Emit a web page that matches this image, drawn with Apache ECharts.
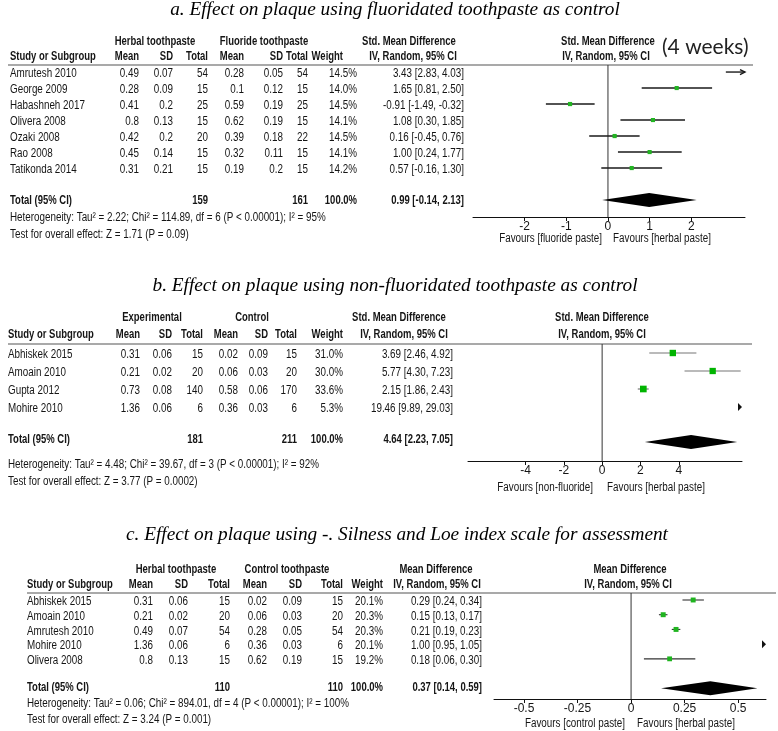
<!DOCTYPE html>
<html><head><meta charset="utf-8">
<script src="https://cdn.jsdelivr.net/npm/echarts@6/dist/echarts.min.js"></script>
<style>html,body{margin:0;padding:0;background:#fff}#c{width:778px;height:731px}</style>
</head><body><div id="c"></div>
<script>
// ---------- Panel a data ----------
const aStudies = ['Amrutesh 2010','George 2009','Habashneh 2017','Olivera 2008','Ozaki 2008','Rao 2008','Tatikonda 2014'];
const aHerbMean = [0.49,0.28,0.41,0.8,0.42,0.45,0.31];
const aHerbSD = [0.07,0.09,0.2,0.13,0.2,0.14,0.21];
const aHerbN = [54,15,25,15,20,15,15];
const aCtrlMean = [0.28,0.1,0.59,0.62,0.39,0.32,0.19];
const aCtrlSD = [0.05,0.12,0.19,0.19,0.18,0.11,0.2];
const aCtrlN = [54,15,25,15,22,15,15];
const aWeight = [14.5,14.0,14.5,14.1,14.5,14.1,14.2];
const aEst = [3.43,1.65,-0.91,1.08,0.16,1.00,0.57];
const aLo = [2.83,0.81,-1.49,0.30,-0.45,0.24,-0.16];
const aHi = [4.03,2.50,-0.32,1.85,0.76,1.77,1.30];
const aPooled = [0.99,-0.14,2.13];
const aTotals = [159,161];
const aTicks = [-2,-1,0,1,2];
// ---------- Panel b data ----------
const bStudies = ['Abhiskek 2015','Amoain 2010','Gupta 2012','Mohire 2010'];
const bExpMean = [0.31,0.21,0.73,1.36];
const bExpSD = [0.06,0.02,0.08,0.06];
const bExpN = [15,20,140,6];
const bCtrlMean = [0.02,0.06,0.58,0.36];
const bCtrlSD = [0.09,0.03,0.06,0.03];
const bCtrlN = [15,20,170,6];
const bWeight = [31.0,30.0,33.6,5.3];
const bEst = [3.69,5.77,2.15,19.46];
const bLo = [2.46,4.30,1.86,9.89];
const bHi = [4.92,7.23,2.43,29.03];
const bPooled = [4.64,2.23,7.05];
const bTotals = [181,211];
const bTicks = [-4,-2,0,2,4];
// ---------- Panel c data ----------
const cStudies = ['Abhiskek 2015','Amoain 2010','Amrutesh 2010','Mohire 2010','Olivera 2008'];
const cHerbMean = [0.31,0.21,0.49,1.36,0.8];
const cHerbSD = [0.06,0.02,0.07,0.06,0.13];
const cHerbN = [15,20,54,6,15];
const cCtrlMean = [0.02,0.06,0.28,0.36,0.62];
const cCtrlSD = [0.09,0.03,0.05,0.03,0.19];
const cCtrlN = [15,20,54,6,15];
const cWeight = [20.1,20.3,20.3,20.1,19.2];
const cEst = [0.29,0.15,0.21,1.00,0.18];
const cLo = [0.24,0.13,0.19,0.95,0.06];
const cHi = [0.34,0.17,0.23,1.05,0.30];
const cPooled = [0.37,0.14,0.59];
const cTotals = [110,110];
const cTicks = [-0.5,-0.25,0,0.25,0.5];

const FN = '"Liberation Sans", Arial, sans-serif';
const INK = '#151515';
function txt(x, y, s, o) {
  o = o || {};
  const size = o.size || 12;
  const al = o.align || 'left';
  const sx = o.sx != null ? o.sx : (o.bold ? 0.79 : 0.82);
  return {type:'text', x:x, y:y, scaleX:sx, silent:true, z:10,
    style:{text:s, x:0, y:0, textAlign:al, textVerticalAlign:'middle', align:al, verticalAlign:'middle',
      font:(o.italic?'italic ':'')+(o.bold?'bold ':'')+size+'px '+(o.family||FN), fill:o.color||INK}};
}
function hline(x1,x2,y){ return {type:'line', silent:true, shape:{x1:x1,y1:y,x2:x2,y2:y}, style:{stroke:'#555',lineWidth:1.2}}; }
const ci = (e,l,h)=> e.toFixed(2)+' ['+l.toFixed(2)+', '+h.toFixed(2)+']';

const graphics = [];
function table(P){
  const g = graphics;
  g.push(txt(P.titleX, P.titleY, P.title, {italic:true, size:19.3, align:'center', family:'"Liberation Serif", "Times New Roman", serif', sx:1, color:'#000'}));
  g.push(txt(P.grp1X, P.h1, P.grp1, {bold:true, align:'center'}));
  g.push(txt(P.grp2X, P.h1, P.grp2, {bold:true, align:'center'}));
  g.push(txt(P.effX, P.h1, P.effName, {bold:true, align:'center'}));
  g.push(txt(P.ivX, P.h2, 'IV, Random, 95% CI', {bold:true, align:'center'}));
  g.push(txt(P.plotEffX, P.h1, P.effName, {bold:true, align:'center'}));
  g.push(txt(P.plotIvX, P.h2, 'IV, Random, 95% CI', {bold:true, align:'center'}));
  g.push(txt(P.studyX, P.h2, 'Study or Subgroup', {bold:true}));
  const heads = ['Mean','SD','Total','Mean','SD','Total','Weight'];
  heads.forEach((h,i)=> g.push(txt(P.cols[i], P.h2, h, {bold:true, align:'right'})));
  g.push(hline(P.lineX1, P.lineX2, P.lineY));
  P.studies.forEach((s,i)=>{
    const y = P.rowY + P.dy*i + P.textOff;
    g.push(txt(P.studyX, y, s));
    const vals = [String(P.m1[i]), String(P.sd1[i]), String(P.n1[i]), String(P.m2[i]), String(P.sd2[i]), String(P.n2[i]), P.w[i].toFixed(1)+'%'];
    vals.forEach((v,j)=> g.push(txt(P.cols[j] + (j===6?P.wOff:0), y, v, {align:'right'})));
    g.push(txt(P.valX, y, ci(P.est[i], P.lo[i], P.hi[i]), {align:'right'}));
  });
  const ty = P.totY;
  g.push(txt(P.studyX, ty, 'Total (95% CI)', {bold:true}));
  g.push(txt(P.cols[2], ty, String(P.totals[0]), {bold:true, align:'right'}));
  g.push(txt(P.cols[5], ty, String(P.totals[1]), {bold:true, align:'right'}));
  g.push(txt(P.cols[6] + P.wOff, ty, '100.0%', {bold:true, align:'right'}));
  g.push(txt(P.valX, ty, ci(P.pooled[0], P.pooled[1], P.pooled[2]), {bold:true, align:'right'}));
  g.push(txt(P.studyX, P.hetY, P.het));
  g.push(txt(P.studyX, P.hetY + P.hetDy, P.test));
  g.push(txt(P.fav1X, P.favY, P.fav1, {align:'right'}));
  g.push(txt(P.fav2X, P.favY, P.fav2, {align:'left'}));
}

table({title:'a. Effect on plaque using fluoridated toothpaste as control', titleX:395, titleY:10,
  grp1:'Herbal toothpaste', grp1X:155, grp2:'Fluoride toothpaste', grp2X:264, effName:'Std. Mean Difference', effX:409, ivX:413,
  plotEffX:608, plotIvX:606, h1:42, h2:57, studyX:10, cols:[139,173,208,244,283,308,343], wOff:14,
  lineX1:8, lineX2:753, lineY:65, rowY:72, dy:16, textOff:2, valX:464,
  studies:aStudies, m1:aHerbMean, sd1:aHerbSD, n1:aHerbN, m2:aCtrlMean, sd2:aCtrlSD, n2:aCtrlN, w:aWeight,
  est:aEst, lo:aLo, hi:aHi, pooled:aPooled, totals:aTotals, totY:201,
  het:'Heterogeneity: Tau² = 2.22; Chi² = 114.89, df = 6 (P < 0.00001); I² = 95%', test:'Test for overall effect: Z = 1.71 (P = 0.09)',
  hetY:218, hetDy:17, fav1:'Favours [fluoride paste]', fav1X:602, fav2:'Favours [herbal paste]', fav2X:613, favY:239});
graphics.push(txt(662, 47, '(4 weeks)', {size:21, family:'Lato, "Open Sans", sans-serif', sx:1, color:'#222'}));

table({title:'b. Effect on plaque using non-fluoridated toothpaste as control', titleX:395, titleY:286,
  grp1:'Experimental', grp1X:152, grp2:'Control', grp2X:252, effName:'Std. Mean Difference', effX:399, ivX:404,
  plotEffX:602, plotIvX:602, h1:318, h2:335, studyX:8, cols:[140,172,203,238,268,297,343], wOff:0,
  lineX1:8, lineX2:752, lineY:344, rowY:353, dy:18, textOff:2, valX:453,
  studies:bStudies, m1:bExpMean, sd1:bExpSD, n1:bExpN, m2:bCtrlMean, sd2:bCtrlSD, n2:bCtrlN, w:bWeight,
  est:bEst, lo:bLo, hi:bHi, pooled:bPooled, totals:bTotals, totY:440,
  het:'Heterogeneity: Tau² = 4.48; Chi² = 39.67, df = 3 (P < 0.00001); I² = 92%', test:'Test for overall effect: Z = 3.77 (P = 0.0002)',
  hetY:465, hetDy:17, fav1:'Favours [non-fluoride]', fav1X:593, fav2:'Favours [herbal paste]', fav2X:607, favY:488});

table({title:'c. Effect on plaque using -. Silness and Loe index scale for assessment', titleX:397, titleY:535,
  grp1:'Herbal toothpaste', grp1X:176, grp2:'Control toothpaste', grp2X:287, effName:'Mean Difference', effX:436, ivX:437,
  plotEffX:630, plotIvX:628, h1:570, h2:585, studyX:27, cols:[153,188,230,267,302,343,383], wOff:0,
  lineX1:27, lineX2:776, lineY:593, rowY:600, dy:14.7, textOff:2, valX:482,
  studies:cStudies, m1:cHerbMean, sd1:cHerbSD, n1:cHerbN, m2:cCtrlMean, sd2:cCtrlSD, n2:cCtrlN, w:cWeight,
  est:cEst, lo:cLo, hi:cHi, pooled:cPooled, totals:cTotals, totY:688,
  het:'Heterogeneity: Tau² = 0.06; Chi² = 894.01, df = 4 (P < 0.00001); I² = 100%', test:'Test for overall effect: Z = 3.24 (P = 0.001)',
  hetY:704, hetDy:16, fav1:'Favours [control paste]', fav1X:625, fav2:'Favours [herbal paste]', fav2X:637, favY:724});

// ---------- forest rendering ----------
function studyRender(st){
  return function(params, api){
    const cs = params.coordSys;
    const xMin = cs.x, xMax = cs.x + cs.width;
    const est = api.value(0), lo = api.value(1), hi = api.value(2), row = api.value(3), w = api.value(4);
    const y = api.coord([0,row])[1];
    const pl = api.coord([lo,row])[0], ph = api.coord([hi,row])[0], pe = api.coord([est,row])[0];
    const ch = [];
    if (pl >= xMax) {
      ch.push({type:'polygon', shape:{points:[[xMax-4,y-4],[xMax,y],[xMax-4,y+4]]}, style:{fill:'#111'}});
    } else {
      const a = Math.max(pl,xMin), b = Math.min(ph,xMax);
      ch.push({type:'line', shape:{x1:a,y1:y,x2:b,y2:y}, style:{stroke:st.line,lineWidth:st.lw}});
      if (ph > xMax) {
        ch.push({type:'polyline', shape:{points:[[xMax-5,y-2.5],[xMax,y],[xMax-5,y+2.5]]}, style:{stroke:st.line,lineWidth:st.lw,fill:null}});
      }
      if (pe >= xMin && pe <= xMax) {
        const s = st.k*Math.sqrt(w);
        ch.push({type:'rect', shape:{x:pe-s/2,y:y-s/2,width:s,height:s}, style:{fill:st.sq}});
      }
    }
    return {type:'group', children:ch};
  };
}
function diamondRender(params, api){
  const est=api.value(0), lo=api.value(1), hi=api.value(2), row=api.value(3);
  const pe=api.coord([est,row]), pl=api.coord([lo,row]), ph=api.coord([hi,row]);
  const h=7;
  return {type:'polygon', shape:{points:[[pl[0],pl[1]],[pe[0],pe[1]-h],[ph[0],ph[1]],[pe[0],pe[1]+h]]}, style:{fill:'#000'}};
}
function zeroRender(params, api){
  const cs=params.coordSys; const x=api.coord([api.value(0),0])[0];
  return {type:'line', shape:{x1:x,y1:cs.y,x2:x,y2:cs.y+cs.height}, style:{stroke:'#333',lineWidth:1}};
}
function studyData(est,lo,hi,w){ return est.map((e,i)=>[e,lo[i],hi[i],i,w[i]]); }

const panels = [
  {grid:{left:473, width:272, top:65, height:152}, x:[-3.24,3.29], y:[-0.44,9.06], ticks:aTicks, data:studyData(aEst,aLo,aHi,aWeight), totRow:8, pooled:aPooled,
   st:{line:'#1a1a1a', lw:1.4, sq:'#22b422', k:1.1}},
  {grid:{left:468, width:274, top:344, height:117}, x:[-7,7.3], y:[-0.5,6.0], ticks:bTicks, data:studyData(bEst,bLo,bHi,bWeight), totRow:4.94, pooled:bPooled,
   st:{line:'#777', lw:1.2, sq:'#00b400', k:1.15}},
  {grid:{left:494, width:272, top:593, height:106}, x:[-0.64,0.63], y:[-0.476,6.73], ticks:cTicks, data:studyData(cEst,cLo,cHi,cWeight), totRow:6, pooled:cPooled,
   st:{line:'#333', lw:1.1, sq:'#1fb41f', k:1.1}}
];

const option = {animation:false, backgroundColor:'#fff', grid:[], xAxis:[], yAxis:[], series:[], graphic:{elements:graphics}};
panels.forEach((p,i)=>{
  option.grid.push(Object.assign({containLabel:false}, p.grid));
  option.xAxis.push({gridIndex:i, type:'value', min:p.x[0], max:p.x[1],
    axisLine:{show:true, onZero:false, lineStyle:{color:'#111', width:1}},
    axisTick:{show:true, customValues:p.ticks, length:4, lineStyle:{color:'#111'}},
    axisLabel:{show:true, customValues:p.ticks, color:INK, fontSize:12, fontFamily:FN, margin:4},
    splitLine:{show:false}});
  option.yAxis.push({gridIndex:i, type:'value', inverse:true, min:p.y[0], max:p.y[1], show:false, splitLine:{show:false}});
  option.series.push({type:'custom', xAxisIndex:i, yAxisIndex:i, renderItem:zeroRender, data:[[0,0]], encode:{x:0,y:1}, silent:true});
  option.series.push({type:'custom', xAxisIndex:i, yAxisIndex:i, renderItem:studyRender(p.st), data:p.data, encode:{x:[0,1,2], y:3}, silent:true, z:3});
  option.series.push({type:'custom', xAxisIndex:i, yAxisIndex:i, renderItem:diamondRender, data:[[p.pooled[0],p.pooled[1],p.pooled[2],p.totRow]], encode:{x:[0,1,2], y:3}, silent:true, z:3});
});
const chart = echarts.init(document.getElementById('c'));
chart.setOption(option);
</script></body></html>
